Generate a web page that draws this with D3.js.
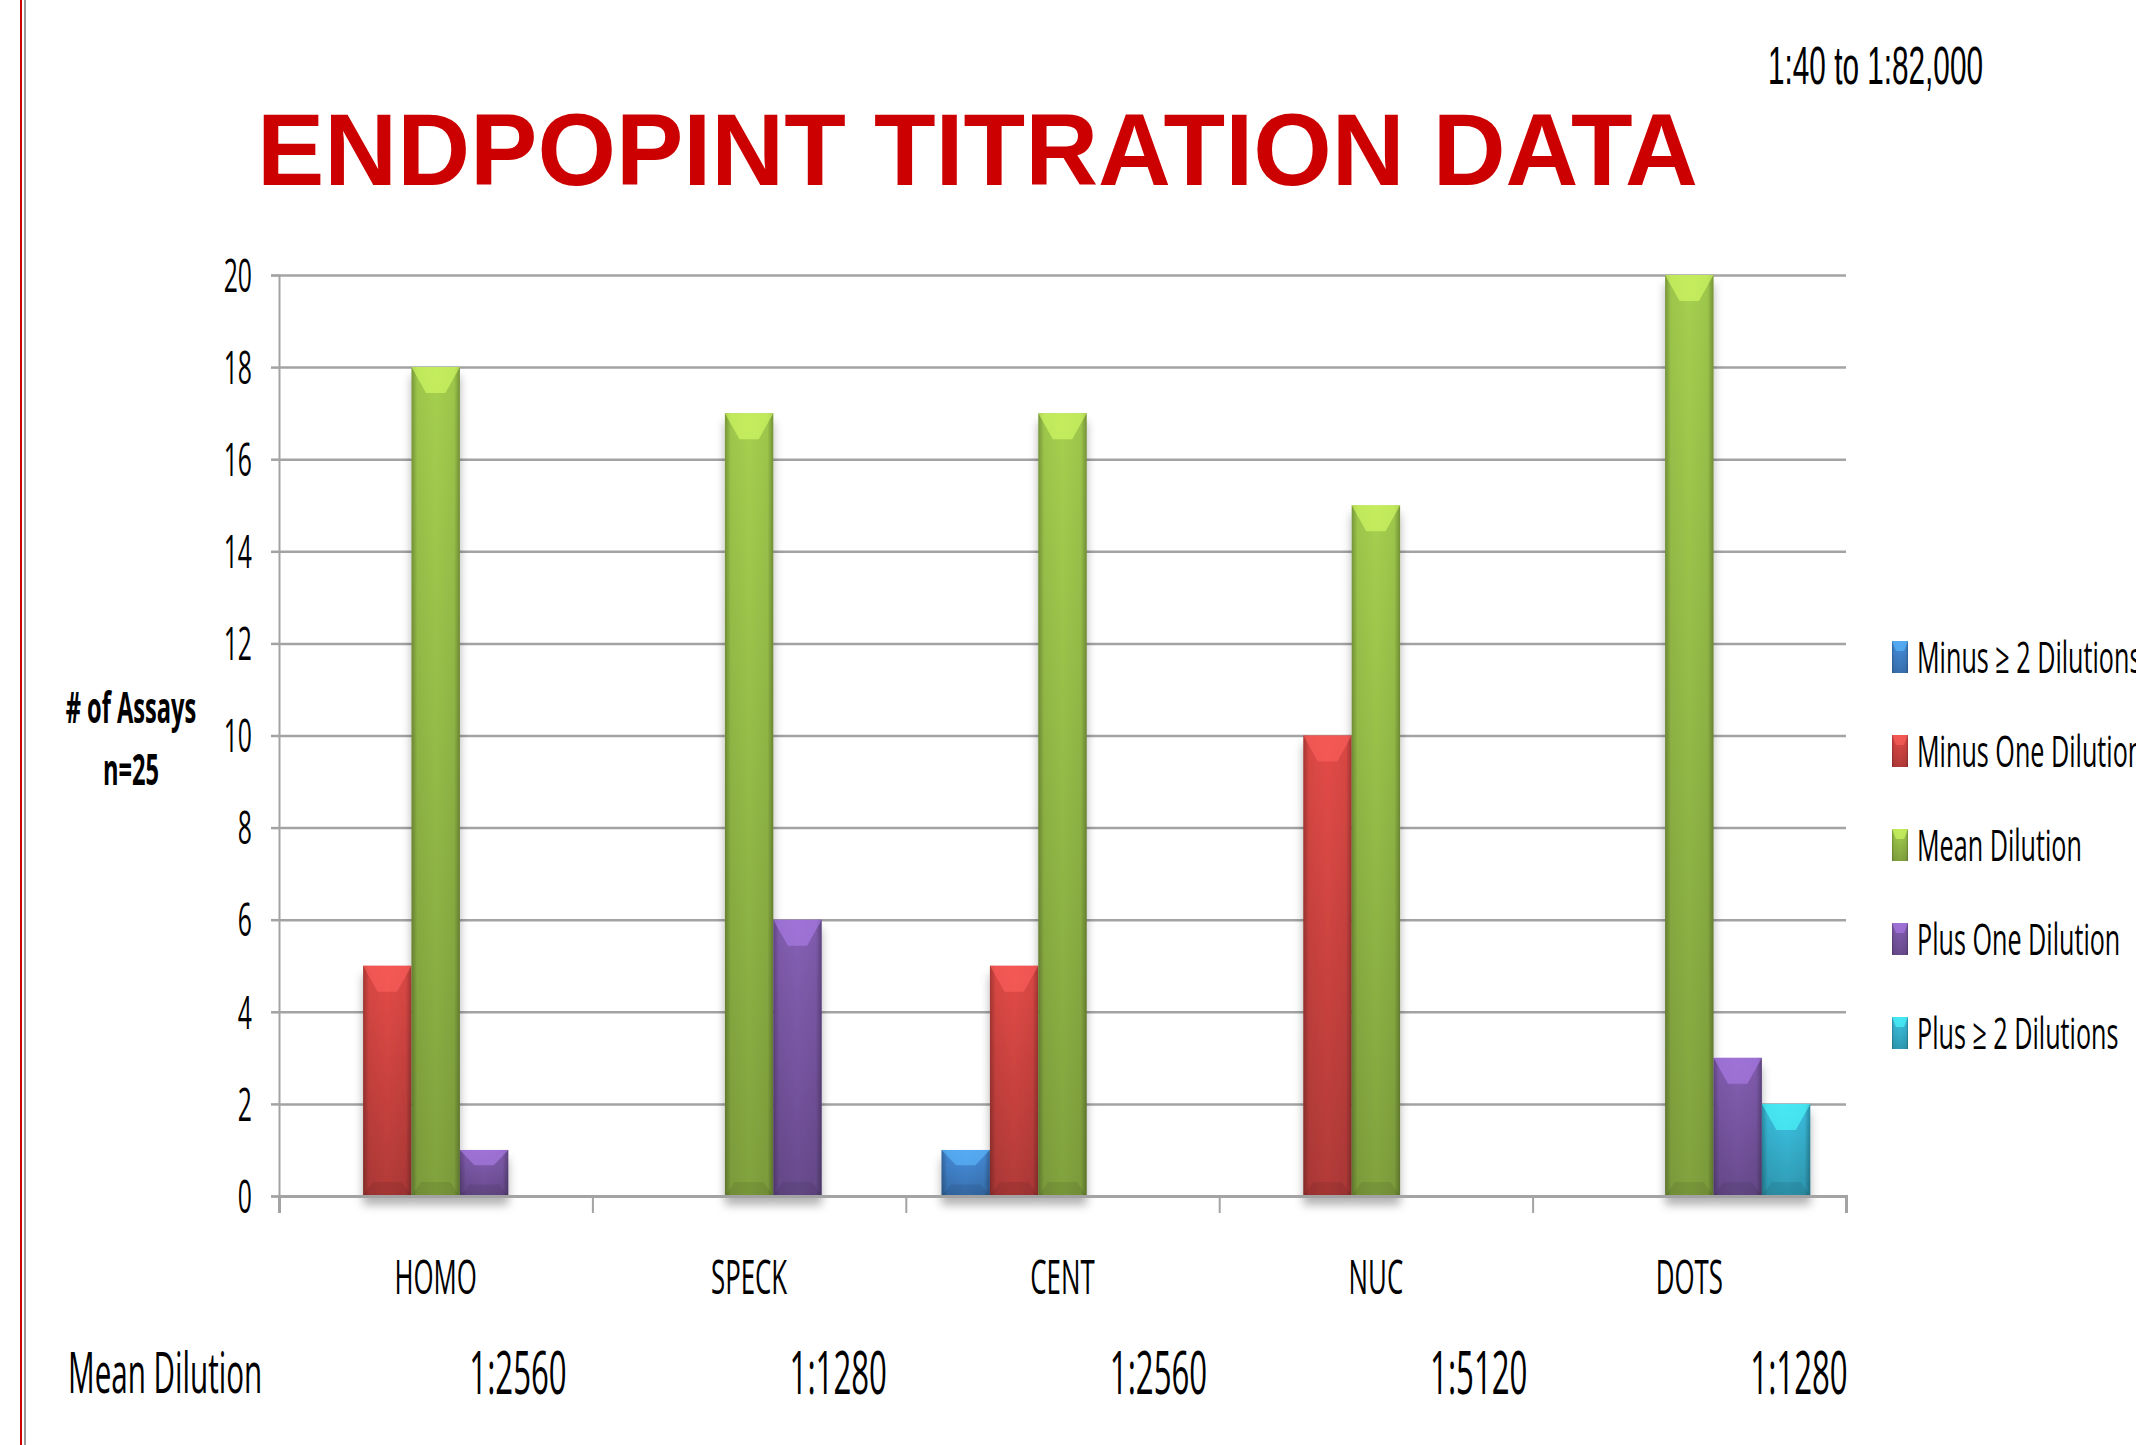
<!DOCTYPE html>
<html>
<head>
<meta charset="utf-8">
<script src="https://cdn.jsdelivr.net/npm/d3@7"></script>
<style>
  body { margin: 0; background: #fff; }
  svg { display: block; }
</style>
</head>
<body>
<svg id="chart"></svg>
<script>
const categories = ['HOMO', 'SPECK', 'CENT', 'NUC', 'DOTS'];
const seriesNames = ['Minus \u2265 2 Dilutions', 'Minus One Dilution', 'Mean Dilution', 'Plus One Dilution', 'Plus \u2265 2 Dilutions'];
const seriesColors = ['#3f7fc6', '#c9423f', '#92b846', '#7655a0', '#35aecb'];
const minusTwo = [0, 0, 1, 0, 0];
const minusOne = [5, 0, 5, 10, 0];
const meanDil = [18, 17, 17, 15, 20];
const plusOne = [1, 6, 0, 0, 3];
const plusTwo = [0, 0, 0, 0, 2];
const meanDilutions = ['1:2560', '1:1280', '1:2560', '1:5120', '1:1280'];
const yTicks = [0, 2, 4, 6, 8, 10, 12, 14, 16, 18, 20];

const W = 2136, H = 1445;
const SX = 0.55; // the slide text is squeezed horizontally
const FONT = "'Open Sans', 'Noto Sans', sans-serif";
const plotLeft = 279, plotRight = 1846, plotTop = 275, plotBottom = 1196;

const svg = d3.select('#chart').attr('width', W).attr('height', H);
svg.append('rect').attr('width', W).attr('height', H).attr('fill', '#fff');

const series = [minusTwo, minusOne, meanDil, plusOne, plusTwo];
const rows = categories.map((c, i) => ({ cat: c, vals: series.map(s => s[i]) }));

const x0 = d3.scaleBand().domain(categories).range([plotLeft, plotRight]).padding(0);
const groupW = x0.bandwidth() * 0.772;
const x1 = d3.scaleBand().domain(d3.range(series.length))
  .range([(x0.bandwidth() - groupW) / 2, (x0.bandwidth() + groupW) / 2]);
const y = d3.scaleLinear().domain([0, 20]).range([plotBottom, plotTop]);
const xEdge = d3.scaleLinear().domain([0, categories.length]).range([plotLeft, plotRight]);
// the dilution row is a separate text line, spaced a little wider than the bands
const xDil = d3.scalePoint().domain(categories).range([518, 1799]);

function squeezed (g, x, yy, txt, size, sx, anchor, weight, family) {
  return g.append('text')
    .attr('transform', 'translate(' + x + ',' + yy + ') scale(' + sx + ',1)')
    .attr('text-anchor', anchor || 'start')
    .attr('font-family', family || FONT)
    .attr('font-size', size)
    .attr('font-weight', weight || 'normal')
    .attr('fill', '#000')
    .text(txt);
}

// left slide border
svg.append('line').attr('x1', 21).attr('x2', 21).attr('y1', 0).attr('y2', H)
  .attr('stroke', '#cc0000').attr('stroke-width', 2);
svg.append('line').attr('x1', 25).attr('x2', 25).attr('y1', 0).attr('y2', H)
  .attr('stroke', '#999').attr('stroke-width', 2);

// title
svg.append('text')
  .attr('x', 257).attr('y', 185)
  .attr('font-family', "'Liberation Sans', Arial, sans-serif")
  .attr('font-weight', 'bold')
  .attr('font-size', 102)
  .attr('fill', '#cc0000')
  .attr('textLength', 1441)
  .attr('lengthAdjust', 'spacingAndGlyphs')
  .text('ENDPOPINT TITRATION DATA');

svg.append('text')
  .attr('x', 1768).attr('y', 84)
  .attr('font-family', "'Liberation Sans', Arial, sans-serif")
  .attr('font-size', 54)
  .attr('fill', '#000')
  .attr('textLength', 215)
  .attr('lengthAdjust', 'spacingAndGlyphs')
  .text('1:40 to 1:82,000');

// gradients
const defs = svg.append('defs');
seriesColors.forEach(function (c, i) {
  const g = defs.append('linearGradient').attr('id', 'vg' + i)
    .attr('x1', 0).attr('x2', 0).attr('y1', 0).attr('y2', 1);
  g.append('stop').attr('offset', '0%').attr('stop-color', d3.color(c).brighter(0.35));
  g.append('stop').attr('offset', '100%').attr('stop-color', d3.color(c).darker(0.35));
});
const hg = defs.append('linearGradient').attr('id', 'hg')
  .attr('x1', 0).attr('x2', 1).attr('y1', 0).attr('y2', 0);
hg.append('stop').attr('offset', '0%').attr('stop-color', '#000').attr('stop-opacity', 0.28);
hg.append('stop').attr('offset', '12%').attr('stop-color', '#000').attr('stop-opacity', 0.05);
hg.append('stop').attr('offset', '50%').attr('stop-color', '#000').attr('stop-opacity', 0);
hg.append('stop').attr('offset', '88%').attr('stop-color', '#000').attr('stop-opacity', 0.05);
hg.append('stop').attr('offset', '100%').attr('stop-color', '#000').attr('stop-opacity', 0.3);
const shadow = defs.append('filter').attr('id', 'shadow')
  .attr('x', '-30%').attr('y', '-10%').attr('width', '160%').attr('height', '130%');
shadow.append('feDropShadow').attr('dx', 0).attr('dy', 9).attr('stdDeviation', 5)
  .attr('flood-color', '#000').attr('flood-opacity', 0.3);

// gridlines
svg.append('g')
  .attr('transform', 'translate(' + plotLeft + ',0)')
  .call(d3.axisLeft(y).tickValues(yTicks).tickSize(-(plotRight - plotLeft)).tickFormat(''))
  .call(g => g.select('.domain').remove())
  .call(g => g.selectAll('line').attr('stroke', '#a3a3a3').attr('stroke-width', 2.5));

// y axis
const yAxis = svg.append('g')
  .attr('transform', 'translate(' + plotLeft + ',0)')
  .call(d3.axisLeft(y).tickValues(yTicks).tickSize(8).tickPadding(19));
yAxis.select('.domain').attr('stroke', '#a3a3a3').attr('stroke-width', 2);
yAxis.selectAll('line').attr('stroke', '#a3a3a3').attr('stroke-width', 2.5);
yAxis.selectAll('text')
  .attr('font-family', FONT).attr('font-size', 45).attr('fill', '#000')
  .attr('x', -27 / SX)
  .attr('dy', '0.36em')
  .attr('transform', 'scale(' + SX + ',1)');

// bars
const groups = svg.append('g').attr('filter', 'url(#shadow)')
  .selectAll('g.cat').data(rows).enter().append('g')
  .attr('class', 'cat')
  .attr('transform', d => 'translate(' + x0(d.cat) + ',0)');

const bars = groups.selectAll('g.bar')
  .data(d => d.vals.map((v, i) => ({ i: i, v: v })).filter(b => b.v > 0))
  .enter().append('g').attr('class', 'bar');

bars.append('rect')
  .attr('x', d => x1(d.i)).attr('width', x1.bandwidth())
  .attr('y', d => y(d.v)).attr('height', d => y(0) - y(d.v))
  .attr('fill', d => 'url(#vg' + d.i + ')');
bars.append('rect')
  .attr('x', d => x1(d.i)).attr('width', x1.bandwidth())
  .attr('y', d => y(d.v)).attr('height', d => y(0) - y(d.v))
  .attr('fill', 'url(#hg)');
// top bevel
bars.append('path')
  .attr('d', function (d) {
    const xa = x1(d.i), w = x1.bandwidth(), yt = y(d.v);
    const b = Math.min(26, (y(0) - yt) / 3), inset = w * 0.3;
    return 'M' + xa + ',' + yt + 'H' + (xa + w) + 'L' + (xa + w - inset) + ',' + (yt + b) +
      'H' + (xa + inset) + 'Z';
  })
  .attr('fill', d => d3.color(seriesColors[d.i]).brighter(1.1))
  .attr('opacity', 0.6);
// bottom bevel
bars.append('path')
  .attr('d', function (d) {
    const xa = x1(d.i), w = x1.bandwidth(), yb = y(0);
    const b = Math.min(14, (yb - y(d.v)) / 4), inset = w * 0.2;
    return 'M' + xa + ',' + yb + 'H' + (xa + w) + 'L' + (xa + w - inset) + ',' + (yb - b) +
      'H' + (xa + inset) + 'Z';
  })
  .attr('fill', '#000').attr('opacity', 0.08);

// baseline and category edge ticks
svg.append('g')
  .attr('transform', 'translate(0,' + plotBottom + ')')
  .call(d3.axisBottom(xEdge).tickValues(d3.range(categories.length + 1)).tickSize(17).tickFormat(''))
  .call(g => g.select('.domain').attr('stroke', '#a3a3a3').attr('stroke-width', 3))
  .call(g => g.selectAll('.tick line').attr('stroke', '#a3a3a3').attr('stroke-width', 2));

// category labels
const labels = svg.append('g');
categories.forEach(function (c) {
  squeezed(labels, x0(c) + x0.bandwidth() / 2, 1294, c, 47, SX, 'middle');
});

// mean dilution row
squeezed(labels, 68, 1393, 'Mean Dilution', 57, 0.52);
categories.forEach(function (c, i) {
  squeezed(labels, xDil(c), 1394, meanDilutions[i], 60, 0.52, 'middle');
});

// y axis title
squeezed(labels, 131, 723, '# of Assays', 43, SX, 'middle', 'bold');
squeezed(labels, 131, 785, 'n=25', 43, SX, 'middle', 'bold');

// legend
const legend = svg.append('g');
seriesNames.forEach(function (name, i) {
  const cy = 657 + i * 94;
  legend.append('rect').attr('x', 1892).attr('y', cy - 16).attr('width', 16).attr('height', 32)
    .attr('fill', 'url(#vg' + i + ')');
  legend.append('rect').attr('x', 1892).attr('y', cy - 16).attr('width', 16).attr('height', 32)
    .attr('fill', 'url(#hg)');
  legend.append('path')
    .attr('d', 'M1892,' + (cy - 16) + 'H1908L1904,' + (cy - 6) + 'H1896Z')
    .attr('fill', d3.color(seriesColors[i]).brighter(1.1)).attr('opacity', 0.6);
  squeezed(legend, 1917, cy + 15.5, name, 43, 0.585);
});
</script>
</body>
</html>
